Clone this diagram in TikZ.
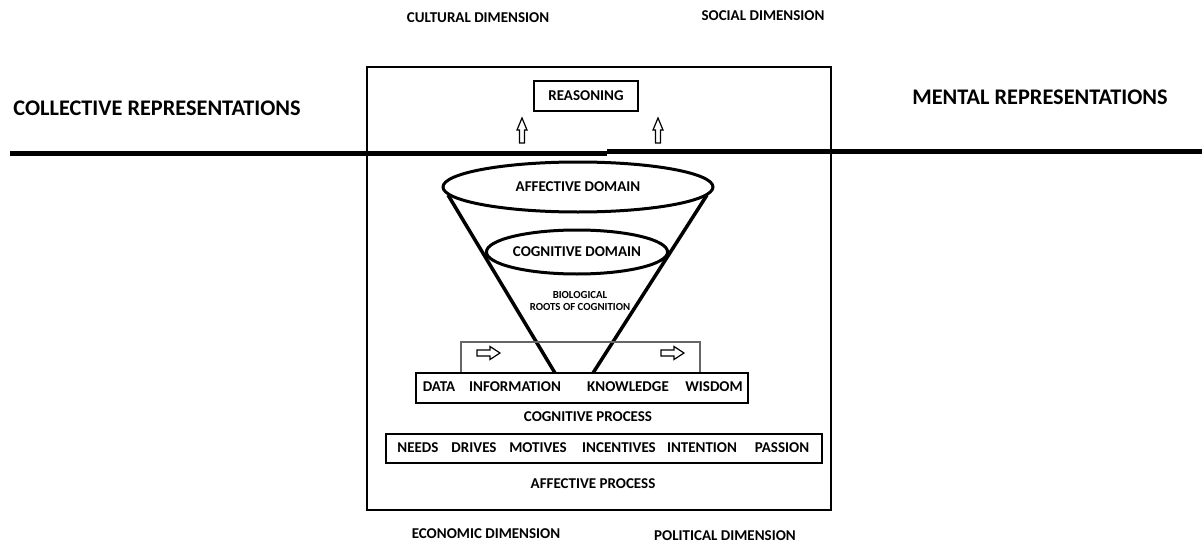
\documentclass[tikz,border=0pt]{standalone}
\usepackage{fontspec}
\setmainfont{Carlito}
\usetikzlibrary{shapes.geometric}
\begin{document}
\begin{tikzpicture}[x=1pt,y=-1pt,
  big/.style={font=\bfseries\fontsize{22.3}{26}\selectfont, inner sep=0pt},
  lbl/.style={font=\bfseries\fontsize{15}{17}\selectfont, inner sep=0pt},
  tiny/.style={font=\bfseries\fontsize{10.8}{12}\selectfont, inner sep=0pt, align=center},
  rbox/.style={draw, line width=2.5pt, inner sep=0pt},
  dom/.style={draw, ellipse, line width=3pt, fill=white, inner sep=0pt},
  uparr/.pic={\draw[line width=1.2pt, fill=white] (-2.5,0) -- (-2.5,-13) -- (-5,-13) -- (0,-25) -- (5,-13) -- (2.5,-13) -- (2.5,0) -- cycle;},
  rtarr/.pic={\draw[line width=1.2pt, fill=white] (0,-3) -- (13,-3) -- (13,-6.5) -- (23,0) -- (13,6.5) -- (13,3) -- (0,3) -- cycle;}
]
\useasboundingbox (0,0) rectangle (1202,543);

% outer labels
\node[lbl] (cult) at (478,18) {CULTURAL DIMENSION};
\node[lbl] (soc) at (763,16) {SOCIAL DIMENSION};
\node[lbl] (econ) at (486,534) {ECONOMIC DIMENSION};
\node[lbl] (pol) at (725,536) {POLITICAL DIMENSION};
\node[big] (coll) at (157,108) {COLLECTIVE REPRESENTATIONS};
\node[big] (ment) at (1040,97) {MENTAL REPRESENTATIONS};

% main box
\draw[line width=2pt] (367,67) rectangle (831,510);

% reasoning
\node[rbox, minimum width=104pt, minimum height=30pt, lbl] (reas) at (586,96) {REASONING};
\pic at (522,143) {uparr};
\pic at (658,143) {uparr};

% dividing lines
\draw[line width=5pt] (10,153.5) -- (607,153.5);
\draw[line width=5pt] (607,151) -- (1202,151);

% cone
\coordinate (aL) at (448,195);
\coordinate (aR) at (707,195);
\coordinate (bL) at (555,373);
\coordinate (bR) at (593,373);
\draw[line width=3.5pt] (aL) -- (bL);
\draw[line width=3.5pt] (aR) -- (bR);

\node[dom, minimum width=270pt, minimum height=50pt, lbl] (aff) at (578,187) {AFFECTIVE DOMAIN};
\node[dom, minimum width=180pt, minimum height=44pt, lbl] (cog) at (577,252) {COGNITIVE DOMAIN};
\node[tiny] (bio) at (580,301) {BIOLOGICAL\\ROOTS OF COGNITION};

% gray arrow box
\draw[gray!80!black, line width=1.3pt] (461,373) -- (461,342) -- (700,342) -- (700,373);
\pic at (477,353) {rtarr};
\pic at (661,353) {rtarr};

% DIKW
\draw[line width=2.5pt] (416,373) rectangle (748,403);
\node[lbl] (data) at (439,387) {DATA};
\node[lbl] (info) at (515,387) {INFORMATION};
\node[lbl] (know) at (628,387) {KNOWLEDGE};
\node[lbl] (wis) at (714,387) {WISDOM};
\node[lbl] (cp) at (588,417) {COGNITIVE PROCESS};

% needs
\draw[line width=2.5pt] (386,434) rectangle (822,463);
\node[lbl] (needs) at (418,448) {NEEDS};
\node[lbl] (drives) at (474,448) {DRIVES};
\node[lbl] (motives) at (538,448) {MOTIVES};
\node[lbl] (inc) at (619,448) {INCENTIVES};
\node[lbl] (intent) at (702,448) {INTENTION};
\node[lbl] (pass) at (782,448) {PASSION};
\node[lbl] (ap) at (593,484) {AFFECTIVE PROCESS};
\end{tikzpicture}
\end{document}
